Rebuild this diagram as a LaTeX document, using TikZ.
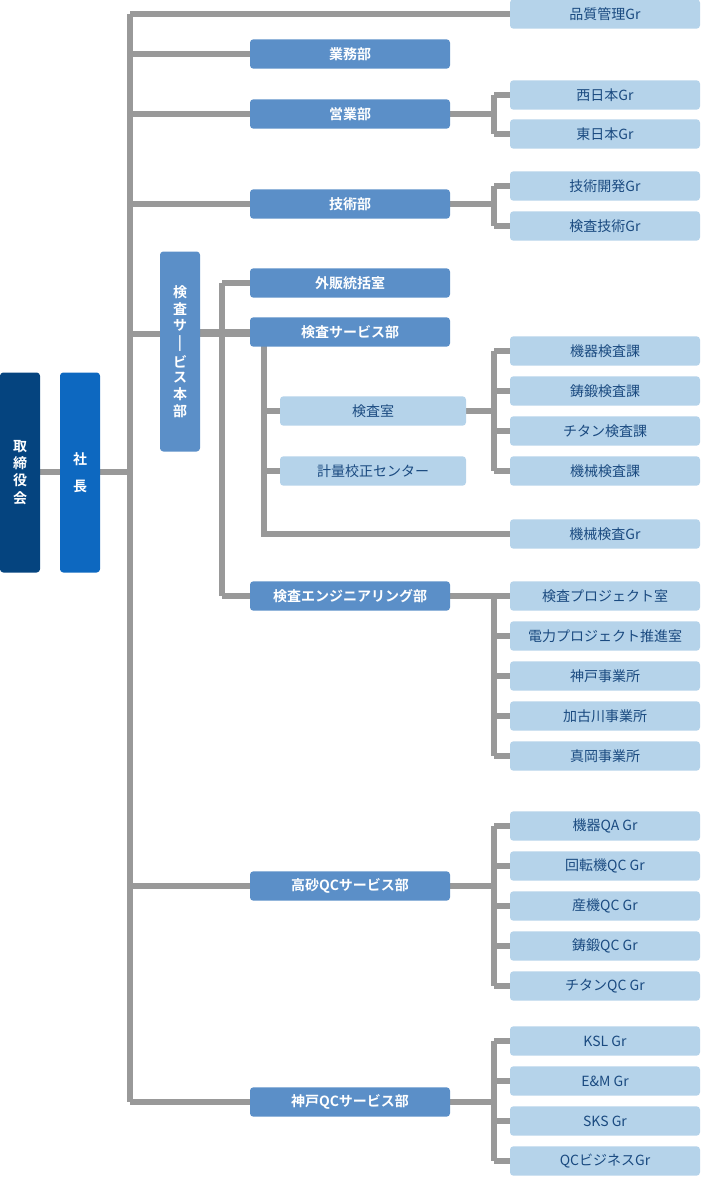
\documentclass[tikz,border=0pt]{standalone}
\usepackage{fontspec}
\setmainfont{Noto Sans CJK JP}[BoldFont={* Bold}]
\begin{document}
\begin{tikzpicture}[x=0.75pt,y=-0.75pt,
  ln/.style={draw=gray!80!white,line width=3.8pt},
  box/.style={rounded corners=2.5pt,inner sep=0,font=\bfseries\fontsize{10.5}{12}\selectfont},
  dk/.style={box,fill=dkb,text=white},
  pr/.style={box,fill=prb,text=white},
  md/.style={box,fill=mdb,text=white,minimum width=150pt,minimum height=22pt},
  lt/.style={box,fill=ltb,text=txb,minimum width=142.5pt,minimum height=22pt,font=\fontsize{10.5}{12}\selectfont},
  lt2/.style={lt,minimum width=139.5pt}]
\definecolor{dkb}{HTML}{05447F}\definecolor{prb}{HTML}{0D68C0}
\definecolor{mdb}{HTML}{5B8FC8}\definecolor{ltb}{HTML}{B5D3EA}\definecolor{txb}{HTML}{1A4A80}
\colorlet{gray!80!white}{black!40}
\useasboundingbox (0,0) rectangle (700,1177);
% coordinates
\coordinate (t1) at (130,14); \coordinate (t2) at (130,1102);
\coordinate (b1) at (222,283); \coordinate (b2) at (222,596);
\coordinate (k1) at (264,346); \coordinate (k2) at (264,534);
% lines
\draw[ln] (t1)--(t2);
\draw[ln] (20,472)--(130,472);
\foreach \y in {54,114,204,334,886,1102}{\draw[ln] (130,\y)--(350,\y);}
\draw[ln] (130,14)--(600,14);
\draw[ln] (200,332)--(350,332);
\draw[ln] (b1)--(b2);
\draw[ln] (222,283)--(350,283); \draw[ln] (222,596)--(600,596);
\draw[ln] (k1)--(k2)--(600,534);
\draw[ln] (264,411)--(350,411); \draw[ln] (264,471)--(350,471);
\draw[ln] (450,114)--(494,114); \draw[ln] (494,95)--(494,134);
\draw[ln] (450,204)--(494,204); \draw[ln] (494,186)--(494,226);
\draw[ln] (466,411)--(494,411); \draw[ln] (494,351)--(494,471);
\draw[ln] (494,596)--(494,756);
\draw[ln] (450,886)--(494,886); \draw[ln] (494,826)--(494,986);
\draw[ln] (450,1102)--(494,1102); \draw[ln] (494,1041)--(494,1161);
\foreach \y in {95,134,186,226,351,391,431,471,636,676,716,756,826,866,906,946,986,1041,1081,1121,1161}{\draw[ln] (494,\y)--(600,\y);}
% boxes
\node[dk,minimum width=30pt,minimum height=150pt] (torishimari) at (20,472.5) {\shortstack{取\\締\\役\\会}};
\node[pr,minimum width=30pt,minimum height=150pt] (shacho) at (80,472.5) {\shortstack{社\\[8pt]長}};
\node[md,minimum width=30pt,minimum height=150pt] (honbu) at (180,351.5) {\shortstack{検\\査\\サ\\|\\ビ\\ス\\本\\部}};
\node[md] (gyomu) at (350,54) {業務部};
\node[md] (eigyo) at (350,114) {営業部};
\node[md] (gijutsu) at (350,204) {技術部};
\node[md] (gaihan) at (350,283) {外販統括室};
\node[md] (kensa) at (350,332) {検査サービス部};
\node[md] (eng) at (350,596) {検査エンジニアリング部};
\node[md] (taka) at (350,886) {高砂QCサービス部};
\node[md] (kobe) at (350,1102) {神戸QCサービス部};
\node[lt2] (shitsu) at (373,411) {検査室};
\node[lt2] (keiryo) at (373,471) {計量校正センター};
\foreach \y/\t/\n in {14/品質管理Gr/a1,95/西日本Gr/a2,134/東日本Gr/a3,186/技術開発Gr/a4,226/検査技術Gr/a5,
 351/機器検査課/a6,391/鋳鍛検査課/a7,431/チタン検査課/a8,471/機械検査課/a9,534/機械検査Gr/a10,
 596/検査プロジェクト室/a11,636/電力プロジェクト推進室/a12,676/神戸事業所/a13,716/加古川事業所/a14,756/真岡事業所/a15,
 826/機器QA Gr/a16,866/回転機QC Gr/a17,906/産機QC Gr/a18,946/鋳鍛QC Gr/a19,986/チタンQC Gr/a20,
 1041/KSL Gr/a21,1081/E\&M Gr/a22,1121/SKS Gr/a23,1161/QCビジネスGr/a24}
 {\node[lt] (\n) at (605,\y) {\t};}
\end{tikzpicture}
\end{document}
